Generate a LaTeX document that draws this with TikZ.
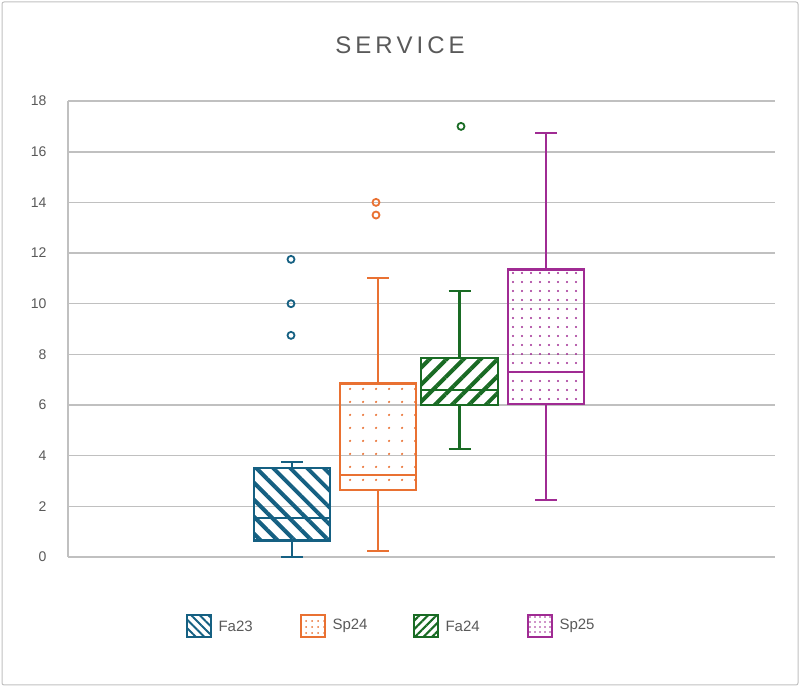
\documentclass[tikz,border=0pt]{standalone}
\usepackage{fontspec}
\setmainfont{Liberation Sans}
\usetikzlibrary{patterns.meta}

\definecolor{cfa}{HTML}{156082}
\definecolor{csp}{HTML}{E97132}
\definecolor{cfb}{HTML}{196B24}
\definecolor{csq}{HTML}{A02B93}
\definecolor{gridgray}{HTML}{C0C0C0}
\definecolor{txtgray}{HTML}{595959}

\tikzset{
  box/.style = {line width=2.2pt},
  whisk/.style = {line width=2.2pt},
  outl/.style = {circle, draw, line width=1.8pt, minimum size=7pt, inner sep=0pt},
  tick/.style = {anchor=east, font=\fontsize{14}{14}\selectfont, text=txtgray},
  leg/.style = {font=\fontsize{15}{15}\selectfont, text=txtgray, anchor=west},
  patfa/.style = {pattern={Lines[angle=-45,distance=6pt,line width=2pt]}, pattern color=cfa},
  patsp/.style = {pattern={Dots[distance=6pt,radius=1pt]}, pattern color=csp},
  patfb/.style = {pattern={Lines[angle=45,distance=6pt,line width=2pt]}, pattern color=cfb},
  patsq/.style = {pattern={Dots[distance=5pt,radius=0.9pt]}, pattern color=csq},
}

% one box: x-left, x-right, q1, median, q3, low, high, colour, pattern
\newcommand{\boxplt}[9]{%
  \path[pattern={#9}, pattern color=#8] (#1,#3) rectangle (#2,#5);
  \draw[box, #8] (#1,#3) rectangle (#2,#5);
  \draw[box, #8] (#1,#4) -- (#2,#4);
  \draw[whisk, #8] ({(#1+#2)/2},#3) -- ({(#1+#2)/2},#6);
  \draw[whisk, #8] ({(#1+#2)/2},#5) -- ({(#1+#2)/2},#7);
  \draw[whisk, #8] ({(#1+#2)/2-11},#6) -- ({(#1+#2)/2+11},#6);
  \draw[whisk, #8] ({(#1+#2)/2-11},#7) -- ({(#1+#2)/2+11},#7);
}

\begin{document}
\begin{tikzpicture}[x=1pt, y=1pt]
  \useasboundingbox (0,0) rectangle (800,687);
  \draw[gridgray, line width=1pt, rounded corners=2pt] (2,2) rectangle (798,685);

  \node[font=\fontsize{24}{24}\selectfont, text=txtgray] (title) at (400,642) {S\,E\,R\,V\,I\,C\,E};

  \begin{scope}[shift={(0,130)}, y=25.33pt]
    % grid and ticks
    \foreach \v in {0,2,...,18} {
      \draw[gridgray, line width=1.6pt] (68,\v) -- (775,\v);
      \node[tick] (t\v) at (50,\v) {\v};
    }
    \draw[gridgray, line width=1.6pt] (68,0) -- (68,18);

    \boxplt{254}{330}{0.65}{1.54}{3.5}{0}{3.75}{cfa}{Lines[angle=-45,distance=12pt,line width=4pt]}
    \boxplt{340}{416}{2.65}{3.24}{6.85}{0.25}{11}{csp}{Dots[distance=13pt,radius=1.3pt]}
    \boxplt{421}{498}{6.0}{6.6}{7.85}{4.25}{10.5}{cfb}{Lines[angle=45,distance=12pt,line width=4pt]}
    \boxplt{508}{584}{6.05}{7.3}{11.35}{2.25}{16.75}{csq}{Dots[distance=9pt,radius=1.2pt]}

    % outliers
    \node[outl, cfa] (o1) at (291,8.75) {};
    \node[outl, cfa] (o2) at (291,10) {};
    \node[outl, cfa] (o3) at (291,11.75) {};
    \node[outl, csp] (o4) at (376,13.5) {};
    \node[outl, csp] (o5) at (376,14) {};
    \node[outl, cfb] (o6) at (461,17) {};
  \end{scope}

  % legend
  \path[patfa] (187,50) rectangle (211,72);
  \path[patsp] (301,50) rectangle (325,72);
  \path[patfb] (414,50) rectangle (438,72);
  \path[patsq] (528,50) rectangle (552,72);
  \foreach \xx/\c/\t in {187/cfa/Fa23, 301/csp/Sp24, 414/cfb/Fa24, 528/csq/Sp25} {
    \draw[\c, line width=2pt] (\xx,50) rectangle (\xx+24,72);
    \node[leg] (l\t) at (\xx+28,61) {\t};
  }
\end{tikzpicture}
\end{document}
